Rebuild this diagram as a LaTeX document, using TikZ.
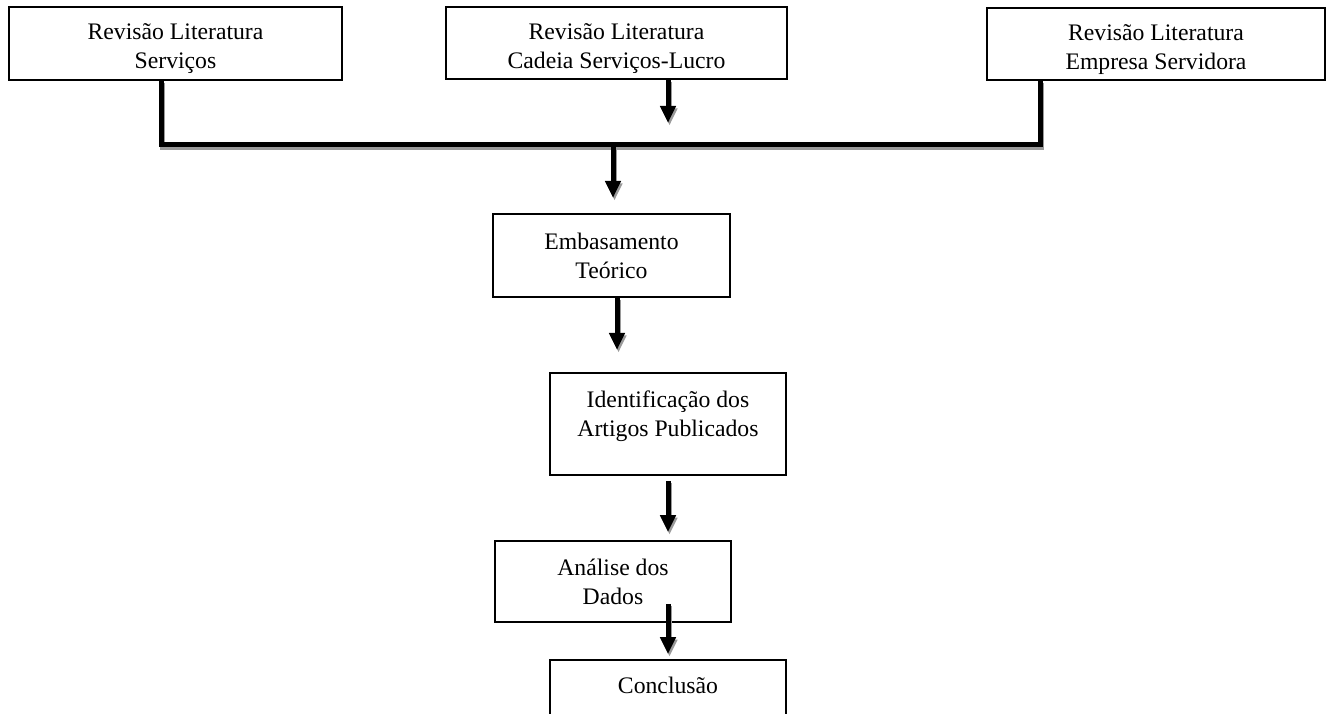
\documentclass[tikz,border=0pt]{standalone}
\usepackage{fontspec}
\setmainfont{Liberation Serif}
\usepackage{tikz}
\usetikzlibrary{positioning,arrows.meta,calc,shadows}
\definecolor{cLine} {HTML}{000000}
\definecolor{cShade}{HTML}{9a9a9a}
\tikzset{
  >={Triangle[length=17pt,width=15pt]},
  rfont/.style={font=\fontsize{23.7}{29}\selectfont},
  rbox/.style={draw=cLine,line width=1.6pt,fill=white,align=center,inner sep=0pt,rfont,
               drop shadow={shadow xshift=1.3pt,shadow yshift=-1.3pt,fill=cShade,opacity=1}},
  rlit/.style={rbox,text height=56pt},
  rtop/.style={anchor=north,inner sep=0pt,yshift=-18pt,align=center,rfont},
  rbar/.style={line width=5pt,cLine,
               preaction={draw=cShade,line width=5pt,transform canvas={shift={(1.5pt,-2.5pt)}}}},
  rar/.style ={->,rbar},
}
\begin{document}
\begin{tikzpicture}[x=1pt,y=1pt]
  \useasboundingbox (0,0) rectangle (1328,714);
  % literature boxes
  \node[rlit,minimum width=333pt,minimum height=73pt] (lserv) at (175.5,670.5) {Revisão Literatura\\Serviços};
  \node[rlit,minimum width=341pt,minimum height=72pt] (lcad)  at (616.5,671)   {Revisão Literatura\\Cadeia Serviços-Lucro};
  \node[rlit,minimum width=338pt,minimum height=72pt] (lemp)  at (1156,670)    {Revisão Literatura\\Empresa Servidora};
  % method steps
  \node[rbox,minimum width=237pt,minimum height=83pt]  (emb)   at (611.5,458.5) {Embasamento\\Teórico};
  \node[rbox,minimum width=236pt,minimum height=102pt,
        label={[rtop]north:Identificação dos\\Artigos Publicados}] (ident) at (668,290) {};
  \node[rbox,minimum width=236pt,minimum height=81pt]  (anal)  at (613,132.5)  {Análise dos\\Dados};
  \node[rbox,minimum width=236pt,minimum height=100pt,
        label={[rtop]north:Conclusão}] (concl) at (668,4) {};
  % joining bar
  \coordinate (barL) at (161,569);
  \coordinate (barR) at (1040,569);
  \draw[rbar] (lserv.south -| barL) -- (barL) -- (barR) -- (lemp.south -| barR);
  \coordinate (lcadE) at (668,591);
  \draw[rar] (lcad.south -| lcadE) -- (lcadE);
  \coordinate (embN) at (613,516);
  \draw[rar] (barL -| embN) -- (embN);
  \coordinate (identN) at (617,364);
  \draw[rar] (emb.south -| identN) -- (identN);
  \draw[rar] ($(ident.south)+(0,-5)$) -- ($(anal.north -| ident)+(0,8)$);
  \draw[rar] ($(anal.south -| ident)+(0,19)$) -- ($(concl.north)+(0,5)$);
\end{tikzpicture}
\end{document}
